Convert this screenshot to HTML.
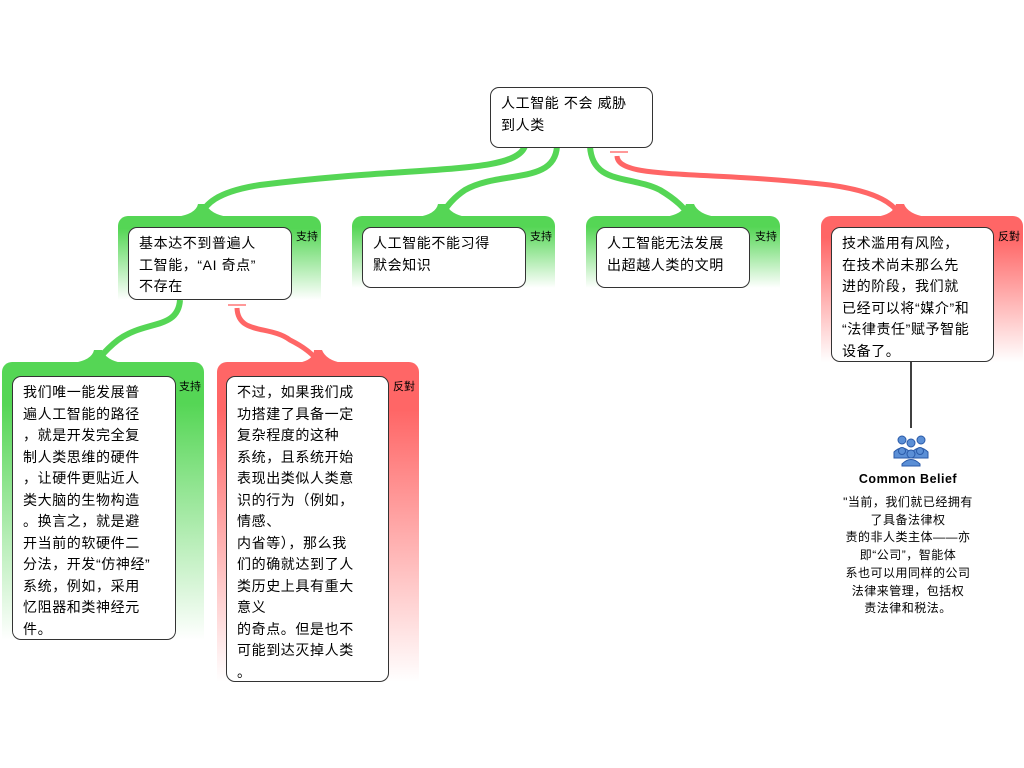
<!DOCTYPE html>
<html><head><meta charset="utf-8"><style>
body{margin:0;width:1024px;height:768px;background:#fff;position:relative;overflow:hidden;font-family:"Liberation Sans","Noto Sans CJK SC",sans-serif;}
.box{position:absolute;background:#fff;border:1px solid #333;border-radius:9px;box-sizing:border-box;padding:5px 0 0 10px;font-size:14px;line-height:21.5px;color:#000;white-space:nowrap;letter-spacing:0.6px}
.tag{position:absolute;font-size:11px;color:#000;}
.fg{position:absolute;border-radius:10px 10px 0 0;background:linear-gradient(#55d655 0%,#55d655 15%,#fff 100%);}
.fr{position:absolute;border-radius:10px 10px 0 0;background:linear-gradient(#f66 0%,#f66 15%,#fff 100%);}
svg{position:absolute;left:0;top:0}
</style></head><body>
<div class="fg" style="left:118px;top:216px;width:203px;height:84px"></div>
<div class="fg" style="left:352px;top:216px;width:203px;height:72px"></div>
<div class="fg" style="left:586px;top:216px;width:194px;height:72px"></div>
<div class="fr" style="left:821px;top:216px;width:202px;height:146px"></div>
<div class="fg" style="left:2px;top:362px;width:202px;height:278px"></div>
<div class="fr" style="left:217px;top:362px;width:202px;height:320px"></div>
<svg width="1024" height="768">
<g fill="none" stroke="#55d655" stroke-width="6">
<path d="M525 146 C515 175 420 165 260 185 C215 192 205 205 200 216"/>
<path d="M557 146 C555 185 500 170 465 190 C450 200 445 210 440 216"/>
<path d="M590 146 C592 185 630 175 660 190 C680 202 685 210 690 216"/>
<path d="M180 300 C178 330 145 320 118 340 C105 350 100 358 96 362"/>
</g>
<g fill="none" stroke="#f66" stroke-width="5">
<path d="M617 156 C618 180 700 170 830 185 C880 192 895 205 900 216"/>
<path d="M237 308 C238 335 270 325 290 340 C310 350 315 358 320 362"/>
</g>
<g fill="#55d655">
<path d="M176 217 Q196 214 198 204 L206 204 Q210 214 228 217Z"/>
<path d="M418 217 Q436 214 438 204 L446 204 Q450 214 466 217Z"/>
<path d="M665 217 Q683 214 686 204 L694 204 Q698 214 716 217Z"/>
<path d="M73 363 Q92 360 94 350 L102 350 Q106 360 122 363Z"/>
</g>
<g fill="#f66">
<path d="M876 217 Q894 214 896 204 L904 204 Q908 214 926 217Z"/>
<path d="M298 363 Q314 360 314 350 L322 350 Q326 360 342 363Z"/>
</g>
<line x1="610" y1="152" x2="628" y2="152" stroke="#f99" stroke-width="2"/>
<line x1="228" y1="305" x2="246" y2="305" stroke="#f99" stroke-width="2"/>
<line x1="911" y1="362" x2="911" y2="428" stroke="#000" stroke-width="1.5"/>
<g fill="#5b8fd6" stroke="#2a5aa8" stroke-width="1">
<circle cx="902" cy="440" r="4"/><circle cx="911" cy="443" r="4"/><circle cx="921" cy="440" r="4"/>
<path d="M894 452 q8-8 16 0v6h-16z"/><path d="M912 452 q8-8 16 0v6h-16z"/>
<circle cx="902" cy="451" r="3.5"/><circle cx="920" cy="451" r="3.5"/><circle cx="911" cy="454" r="4"/>
<path d="M902 464 q9-9 18 0v2h-18z"/>
</g>
</svg>
<div class="box" style="left:490px;top:87px;width:163px;height:61px">人工智能 不会 威胁<br>到人类</div>
<div class="box" style="left:128px;top:227px;width:164px;height:73px">基本达不到普遍人<br>工智能，“AI 奇点”<br>不存在</div>
<div class="tag" style="left:296px;top:228px">支持</div>
<div class="box" style="left:362px;top:227px;width:164px;height:61px">人工智能不能习得<br>默会知识</div>
<div class="tag" style="left:530px;top:228px">支持</div>
<div class="box" style="left:596px;top:227px;width:154px;height:61px">人工智能无法发展<br>出超越人类的文明</div>
<div class="tag" style="left:755px;top:228px">支持</div>
<div class="box" style="left:831px;top:227px;width:163px;height:135px">技术滥用有风险，<br>在技术尚未那么先<br>进的阶段，我们就<br>已经可以将“媒介”和<br>“法律责任”赋予智能<br>设备了。</div>
<div class="tag" style="left:998px;top:228px">反對</div>
<div class="box" style="left:12px;top:376px;width:164px;height:264px">我们唯一能发展普<br>遍人工智能的路径<br>，就是开发完全复<br>制人类思维的硬件<br>，让硬件更贴近人<br>类大脑的生物构造<br>。换言之，就是避<br>开当前的软硬件二<br>分法，开发“仿神经”<br>系统，例如，采用<br>忆阻器和类神经元<br>件。</div>
<div class="tag" style="left:179px;top:378px">支持</div>
<div class="box" style="left:226px;top:376px;width:163px;height:306px">不过，如果我们成<br>功搭建了具备一定<br>复杂程度的这种<br>系统，且系统开始<br>表现出类似人类意<br>识的行为（例如，<br>情感、<br>内省等），那么我<br>们的确就达到了人<br>类历史上具有重大<br>意义<br>的奇点。但是也不<br>可能到达灭掉人类<br>。</div>
<div class="tag" style="left:393px;top:378px">反對</div>
<div style="position:absolute;left:808px;top:472px;width:200px;text-align:center;font-weight:bold;font-size:12.5px;letter-spacing:0.5px">Common Belief</div>
<div style="position:absolute;left:808px;top:494px;width:200px;text-align:center;font-size:12px;line-height:17.7px;letter-spacing:0.5px">"当前，我们就已经拥有<br>了具备法律权<br>责的非人类主体——亦<br>即“公司”，智能体<br>系也可以用同样的公司<br>法律来管理，包括权<br>责法律和税法。</div>
</body></html>
